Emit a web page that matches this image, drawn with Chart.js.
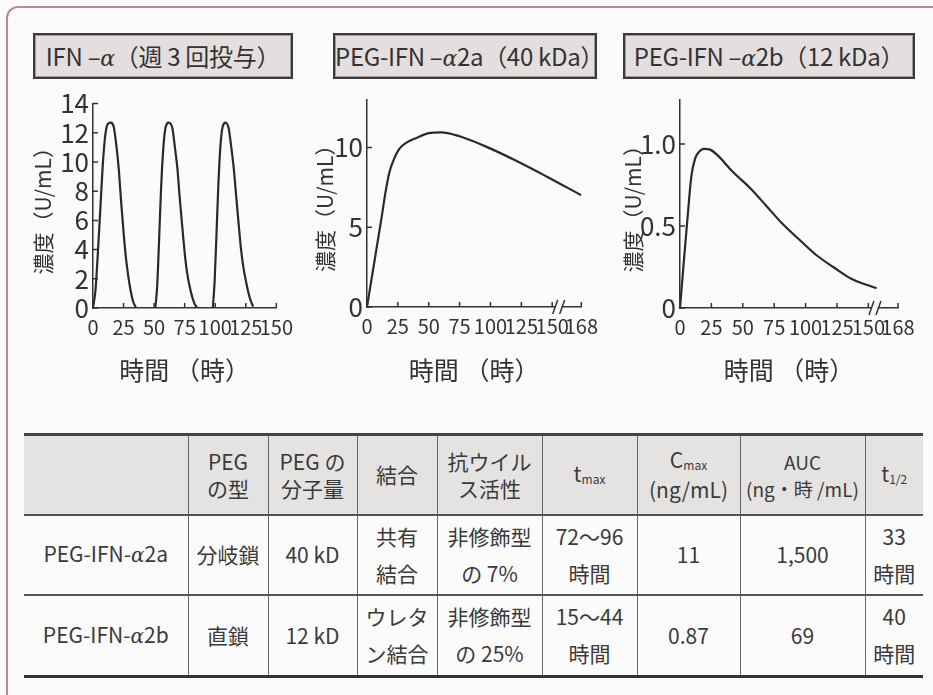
<!DOCTYPE html>
<html lang="ja">
<head>
<meta charset="utf-8">
<script src="https://cdn.jsdelivr.net/npm/chart.js@4.4.1/dist/chart.umd.min.js"></script>
<style>
  body { margin: 0; width: 933px; height: 695px; overflow: hidden; position: relative;
         background: #fcfbfb; font-family: 'Noto Sans CJK JP', 'Noto Sans', sans-serif; color: #333; }
  .frame { position: absolute; left: 6px; top: 6px; width: 1000px; height: 1000px;
           border-top: 2px solid #b98a92; border-left: 2px solid #b98a92; border-top-left-radius: 12px; }
  .ttl { position: absolute; top: 33px; height: 46px; box-sizing: border-box; border: 2px solid #3a3a3a;
         box-shadow: inset 0 0 0 1px #999; background: #e4dedf; font-size: 24px; line-height: 41px;
         text-align: center; white-space: nowrap; color: #333; letter-spacing: -0.3px; }
  .ttl i { font-family: 'DejaVu Serif', serif; font-size: 22px; }
  .cv { position: absolute; }
  table { position: absolute; left: 24px; top: 433px; width: 899px; border-collapse: collapse;
          table-layout: fixed; font-size: 21px; color: #3a3a3a; }
  td, th { text-align: center; vertical-align: middle; padding: 0; border-left: 1px solid #666; font-weight: normal; white-space: nowrap; }
  td:first-child, th:first-child { border-left: none; }
  thead tr { height: 80px; background: #e5e2e2; border-top: 3px solid #444; border-bottom: 2px solid #555; }
  thead th { line-height: 27px; }
  tbody tr { height: 80px; border-bottom: 2px solid #555; }
  tbody tr:last-child { height: 82px; border-bottom: 3px solid #333; }
  tbody td { line-height: 37px; }
  td i { font-family: 'DejaVu Serif', serif; font-size: 20px; }
  sub { font-size: 12px; vertical-align: baseline; position: relative; top: 2px; }
</style>
</head>
<body>
<div class="frame"></div>

<div class="ttl" style="left:33px;width:260px">IFN –<i>α</i>（週 3 回投与）</div>
<div class="ttl" style="left:333px;width:264px">PEG-IFN –<i>α</i>2a（40 kDa）</div>
<div class="ttl" style="left:623px;width:292px">PEG-IFN –<i>α</i>2b（12 kDa）</div>

<canvas id="c1" class="cv" width="280" height="306" style="left:20px;top:84px;width:280px;height:306px"></canvas>
<canvas id="c2" class="cv" width="300" height="310" style="left:305px;top:80px;width:300px;height:310px"></canvas>
<canvas id="c3" class="cv" width="315" height="310" style="left:612px;top:80px;width:315px;height:310px"></canvas>

<table>
  <colgroup>
    <col style="width:164px"><col style="width:80px"><col style="width:89px"><col style="width:80px">
    <col style="width:105px"><col style="width:95px"><col style="width:103px"><col style="width:125px"><col style="width:58px">
  </colgroup>
  <thead>
    <tr>
      <th></th>
      <th>PEG<br>の型</th>
      <th>PEG の<br>分子量</th>
      <th>結合</th>
      <th>抗ウイル<br>ス活性</th>
      <th>t<sub>max</sub></th>
      <th>C<sub>max</sub><br>(ng/mL)</th>
      <th style="font-size:19px">AUC<br>(ng・時 /mL)</th>
      <th>t<sub>1/2</sub></th>
    </tr>
  </thead>
  <tbody>
    <tr>
      <td>PEG-IFN-<i>α</i>2a</td><td>分岐鎖</td><td>40 kD</td><td>共有<br>結合</td>
      <td>非修飾型<br>の 7%</td><td>72〜96<br>時間</td><td>11</td><td>1,500</td><td>33<br>時間</td>
    </tr>
    <tr>
      <td>PEG-IFN-<i>α</i>2b</td><td>直鎖</td><td>12 kD</td><td>ウレタ<br>ン結合</td>
      <td>非修飾型<br>の 25%</td><td>15〜44<br>時間</td><td>0.87</td><td>69</td><td>40<br>時間</td>
    </tr>
  </tbody>
</table>

<script>
// IFN-α, three doses a week (one list per dose)
const ifnHours = [
  [0, 2, 4, 6, 8, 10, 12, 14.5, 17, 19, 21, 23, 25, 27, 29, 31, 33, 35],
  [51, 52.5, 54, 55.5, 57, 59, 62, 65, 67, 69, 71, 73, 75, 77, 79, 81, 83, 85],
  [98, 99.5, 101, 102.5, 104, 106, 108.5, 111, 113, 115, 117, 119, 121, 123, 125, 127, 129, 131],
];
const ifnConc = [
  [0, 1.2, 3.8, 6.8, 9.8, 11.8, 12.6, 12.7, 12.4, 11.2, 9.6, 7.3, 5.2, 3.4, 2.1, 1.1, 0.4, 0.05],
  [0, 1.5, 4.5, 7.8, 10.3, 12.2, 12.7, 12.3, 11.0, 9.6, 7.5, 5.6, 3.8, 2.4, 1.5, 0.8, 0.3, 0.05],
  [0, 1.8, 5.0, 8.3, 10.8, 12.4, 12.7, 12.3, 11.1, 9.7, 7.8, 5.9, 4.1, 2.8, 1.9, 1.1, 0.5, 0.1],
];
const ifnXTicks = [0, 25, 50, 75, 100, 125, 150];

// PEG-IFN-α2a (40 kDa)
const peg2aHours = [0, 4, 8, 12, 15, 18, 22, 26, 32, 40, 50, 60, 75, 95, 120, 145, 168];
const peg2aConc = [0, 1.9, 3.8, 5.7, 7.2, 8.4, 9.3, 9.9, 10.3, 10.6, 10.9, 10.95, 10.7, 10.1, 9.2, 8.2, 7.0];

// PEG-IFN-α2b (12 kDa)
const peg2bHours = [0, 3, 6, 9, 12, 15, 19, 24, 30, 42, 56, 69, 82, 96, 109, 122, 136, 155];
const peg2bConc = [0, 0.28, 0.55, 0.8, 0.91, 0.95, 0.97, 0.965, 0.93, 0.83, 0.73, 0.62, 0.51, 0.41, 0.32, 0.25, 0.18, 0.12];

const pegXTicks = [0, 25, 50, 75, 100, 125, 150, 168];

const FONT = "'Noto Sans CJK JP', 'Noto Sans', sans-serif";
const INK = '#333';

// time axis with a break after 150 h: 0-150 h takes most of the width, 150-168 h the rest
const BREAK_HOUR = 150;
const BREAK_SHARE = 0.864;

class BrokenTimeScale extends Chart.LinearScale {
  static id = 'brokenTime';
  static defaults = Chart.LinearScale.defaults;

  getPixelForValue(value) {
    let dec;
    if (value <= BREAK_HOUR) {
      dec = ((value - this.min) / (BREAK_HOUR - this.min)) * BREAK_SHARE;
    } else {
      dec = BREAK_SHARE + ((value - BREAK_HOUR) / (this.max - BREAK_HOUR)) * (1 - BREAK_SHARE);
    }
    return this.getPixelForDecimal(dec);
  }

  getValueForPixel(pixel) {
    const dec = this.getDecimalForPixel(pixel);
    if (dec <= BREAK_SHARE) return this.min + (dec / BREAK_SHARE) * (BREAK_HOUR - this.min);
    return BREAK_HOUR + ((dec - BREAK_SHARE) / (1 - BREAK_SHARE)) * (this.max - BREAK_HOUR);
  }
}
Chart.register(BrokenTimeScale);

const innerTicks = {
  id: 'innerTicks',
  afterDraw(chart, args, opts) {
    const { ctx, scales: { x, y } } = chart;
    ctx.save();
    ctx.strokeStyle = INK;
    ctx.lineWidth = 1.5;
    ctx.beginPath();
    x.ticks.forEach((t) => {
      const px = x.getPixelForValue(t.value);
      ctx.moveTo(px, y.bottom);
      ctx.lineTo(px, y.bottom - 5);
    });
    y.ticks.forEach((t) => {
      const py = y.getPixelForValue(t.value);
      ctx.moveTo(x.left, py);
      ctx.lineTo(x.left + 5, py);
    });
    ctx.stroke();
    if (opts.breakAt) {
      const px = x.getPixelForValue(opts.breakAt);
      const py = y.bottom;
      ctx.fillStyle = '#fcfbfb';
      ctx.fillRect(px - 3, py - 2, 6, 4);
      ctx.beginPath();
      ctx.moveTo(px - 6, py + 7); ctx.lineTo(px - 1, py - 7);
      ctx.moveTo(px + 1, py + 7); ctx.lineTo(px + 6, py - 7);
      ctx.stroke();
    }
    ctx.restore();
  },
};

function concChart(id, cfg) {
  const datasets = cfg.series.map(([hours, conc]) => ({
    data: hours.map((h, i) => ({ x: h, y: conc[i] })),
    borderColor: '#2a2a2a',
    borderWidth: 2.2,
    pointRadius: 0,
    cubicInterpolationMode: 'monotone',
  }));
  return new Chart(document.getElementById(id), {
    type: 'line',
    data: { datasets },
    plugins: [innerTicks],
    options: {
      responsive: false,
      animation: false,
      devicePixelRatio: 1,
      layout: { padding: { top: cfg.padTop, right: cfg.padRight, left: 0, bottom: 0 } },
      plugins: {
        legend: { display: false },
        tooltip: { enabled: false },
        innerTicks: { breakAt: cfg.breakAt },
      },
      scales: {
        x: {
          type: cfg.xType,
          min: 0,
          max: cfg.xMax,
          afterBuildTicks: (s) => { s.ticks = cfg.xTicks.map((v) => ({ value: v })); },
          afterFit: (s) => { s.height = cfg.xHeight; },
          ticks: { autoSkip: false, maxRotation: 0, padding: 7, color: INK,
                   font: { family: FONT, size: 20 }, callback: (v) => String(v) },
          grid: { display: false, drawTicks: false },
          border: { display: true, color: INK, width: 1.5 },
          title: { display: true, text: '時間 （時）', color: INK,
                   font: { family: FONT, size: 25 }, padding: { top: 0, bottom: 5 } },
        },
        y: {
          min: 0,
          max: cfg.yMax,
          afterFit: (s) => { s.width = cfg.yWidth; },
          ticks: { stepSize: cfg.yStep, includeBounds: false, autoSkip: false, padding: 4, color: INK,
                   font: { family: FONT, size: 26 }, callback: cfg.yFmt },
          grid: { display: false, drawTicks: false },
          border: { display: true, color: INK, width: 1.5 },
          title: { display: true, text: '濃度（U/mL）', color: INK,
                   font: { family: FONT, size: 21 }, padding: { top: cfg.yTitlePad, bottom: 0 } },
        },
      },
    },
  });
}

concChart('c1', {
  series: ifnHours.map((h, i) => [h, ifnConc[i]]),
  xType: 'linear', xMax: 150, xTicks: ifnXTicks, yMax: 14, yStep: 2, yFmt: (v) => String(v),
  yWidth: 73, padTop: 14, padRight: 17, xHeight: 82, yTitlePad: 10,
});

concChart('c2', {
  series: [[peg2aHours, peg2aConc]],
  xType: 'brokenTime', xMax: 168, xTicks: pegXTicks, yMax: 13, yStep: 5, yFmt: (v) => String(v),
  yWidth: 62, padTop: 14, padRight: 18, xHeight: 83, yTitlePad: 7, breakAt: 154,
});

concChart('c3', {
  series: [[peg2bHours, peg2bConc]],
  xType: 'brokenTime', xMax: 168, xTicks: pegXTicks, yMax: 1.27, yStep: 0.5,
  yFmt: (v) => (v === 0 ? '0' : v.toFixed(1)),
  yWidth: 68, padTop: 15, padRight: 29, xHeight: 82, yTitlePad: 8, breakAt: 154,
});
</script>
</body>
</html>
